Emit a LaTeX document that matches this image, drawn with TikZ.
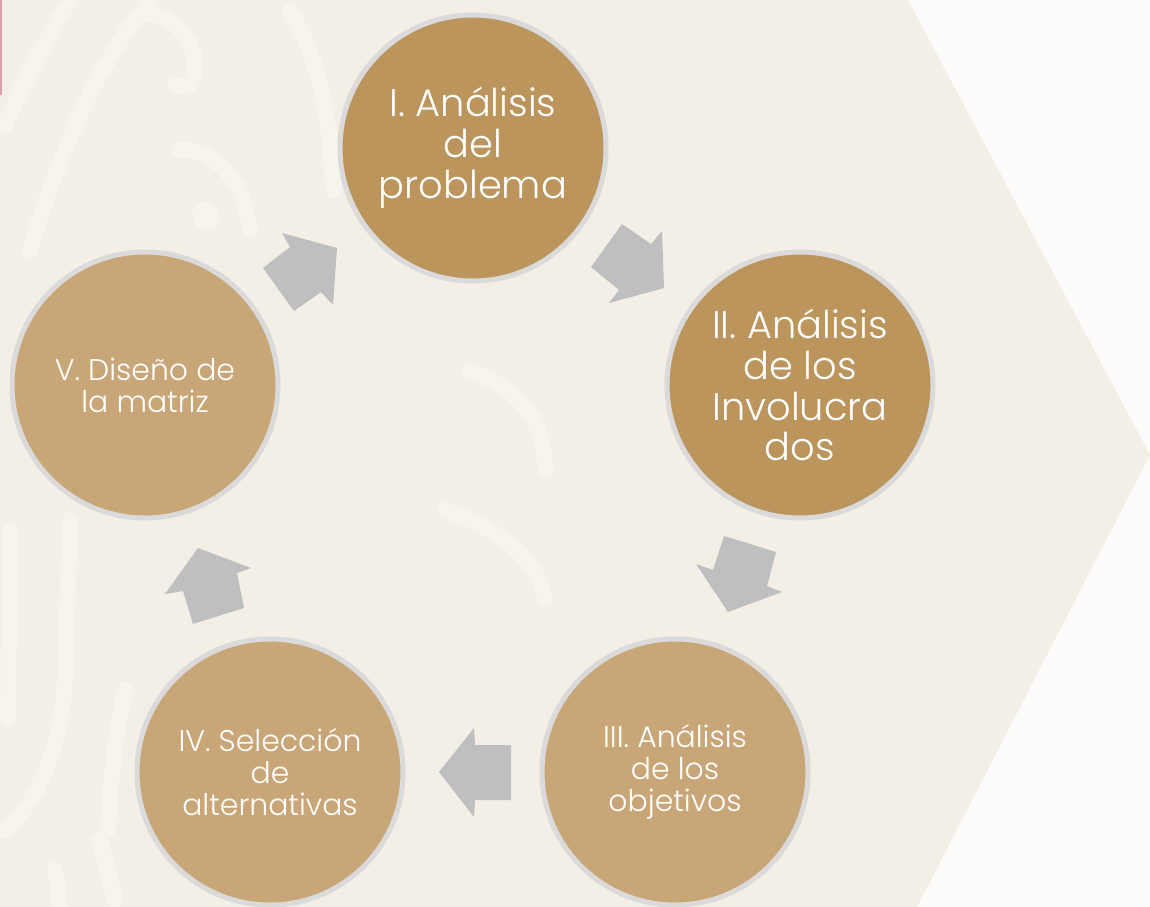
\documentclass[tikz,border=0pt]{standalone}
\usepackage{fontspec}
\setmainfont{Poppins}[UprightFont={* Light}]
\definecolor{bgbeige}{HTML}{F3EEE6}
\definecolor{streak}{HTML}{F7F4EE}
\definecolor{outside}{HTML}{FDFCFA}
\definecolor{darkgold}{HTML}{BC955C}
\definecolor{lightgold}{HTML}{C8A677}
\definecolor{ringgray}{HTML}{DADADA}
\definecolor{arrowgray}{HTML}{BFBFBF}
\definecolor{pinkline}{HTML}{D9A3AB}
\tikzset{
  stagebox/.style={circle, draw=ringgray, line width=5bp, minimum size=266bp, inner sep=0pt, text=white, align=center},
  bigtext/.style={font=\fontsize{38.5}{41}\selectfont},
  smalltext/.style={font=\fontsize{30}{32}\selectfont},
  blockarrow/.style={fill=arrowgray},
  bgstreak/.style={draw=streak, line width=16bp, line cap=round}
}
\begin{document}
\begin{tikzpicture}[x=1bp,y=-1bp]
\useasboundingbox (0,0) rectangle (1150,907);
% background
\fill[outside] (0,0) rectangle (1150,907);
\fill[bgbeige] (0,0) -- (908,0) -- (1150,455) -- (917,907) -- (0,907) -- cycle;
% faint pattern
\begin{scope}
\clip (0,0) -- (908,0) -- (1150,455) -- (917,907) -- (0,907) -- cycle;
\draw[bgstreak] (5,125) .. controls (25,80) and (45,40) .. (70,0);
\draw[bgstreak] (30,250) .. controls (60,150) and (100,60) .. (150,0);
\draw[bgstreak] (140,15) .. controls (165,10) and (190,30) .. (195,60) .. controls (197,85) and (185,90) .. (175,85);
\draw[bgstreak] (180,150) .. controls (220,150) and (245,185) .. (250,230);
\draw[bgstreak, line width=26bp] (205,215) -- (207,218);
\draw[bgstreak] (290,10) .. controls (320,60) and (330,120) .. (333,190);
\draw[bgstreak] (10,530) -- (8,720);
\draw[bgstreak] (70,520) -- (65,680) .. controls (60,760) and (30,810) .. (5,830);
\draw[bgstreak] (125,690) .. controls (115,740) and (110,780) .. (108,830);
\draw[bgstreak] (100,840) -- (115,900);
\draw[bgstreak] (55,870) -- (60,907);
\draw[bgstreak] (470,370) .. controls (520,390) and (545,420) .. (545,470);
\draw[bgstreak] (445,510) .. controls (500,530) and (540,560) .. (545,600);
\end{scope}
\draw[pinkline, line width=2bp] (1,0) -- (1,95);
% stages
\node[stagebox, bigtext, fill=darkgold] (s1) at (473,148) {I. Análisis\\del\\problema};
\node[stagebox, bigtext, fill=darkgold] (s2) at (800,385) {II. Análisis\\de los\\Involucra\\dos};
\node[stagebox, smalltext, fill=lightgold] (s3) at (675,772) {III. Análisis\\de los\\objetivos};
\node[stagebox, smalltext, fill=lightgold] (s4) at (270,772) {IV. Selección\\de\\alternativas};
\node[stagebox, smalltext, fill=lightgold] (s5) at (145,385) {V. Diseño de\\la matriz};
% block arrows
\fill[blockarrow] (263,268) -- (290,247) -- (282,233) -- (337,248) -- (333,305) -- (321,292) -- (294,311) -- cycle;
\fill[blockarrow] (622,224) -- (651,244) -- (662,231) -- (664,288) -- (609,303) -- (619,290) -- (591,267) -- cycle;
\fill[blockarrow] (724,536) -- (776,552) -- (767,586) -- (782,592) -- (728,612) -- (696,564) -- (713,570) -- cycle;
\fill[blockarrow] (474,728) -- (439,772) -- (474,817) -- (475,800) -- (511,800) -- (511,745) -- (475,745) -- cycle;
\fill[blockarrow] (198,548) -- (251,568) -- (237,573) -- (244,608) -- (193,624) -- (183,591) -- (165,594) -- cycle;
\end{tikzpicture}
\end{document}
